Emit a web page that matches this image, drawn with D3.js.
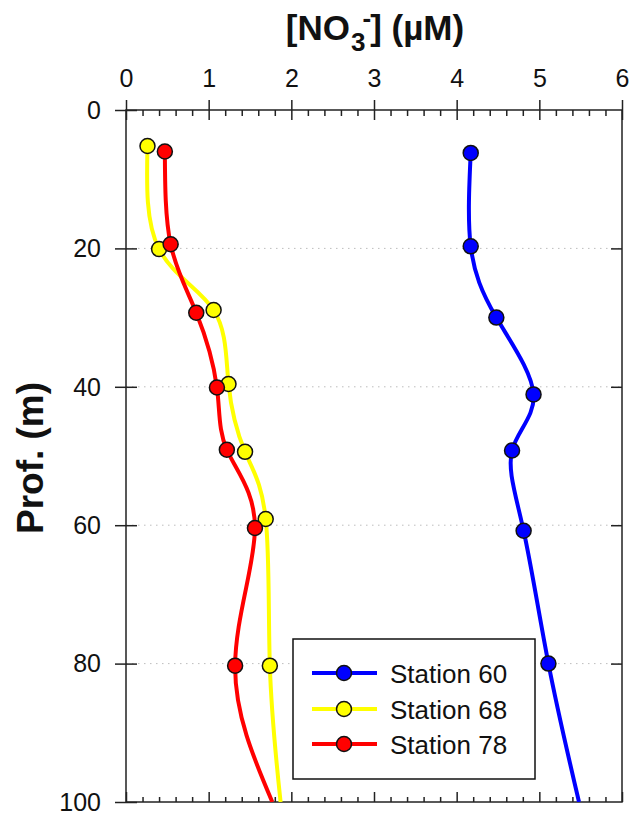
<!DOCTYPE html>
<html><head><meta charset="utf-8">
<script src="https://cdn.jsdelivr.net/npm/d3@7"></script>
<style>
html,body{margin:0;padding:0;background:#fff;}
svg{display:block;font-family:"Liberation Sans",Arial,sans-serif;}
</style></head>
<body><svg id="c" width="632" height="813"></svg>
<script>
// ---- data ----
const xTicks = [0, 1, 2, 3, 4, 5, 6];
const yTicks = [0, 20, 40, 60, 80, 100];
const seriesNames = ["Station 60", "Station 68", "Station 78"];
const seriesColors = ["#0000ff", "#ffff00", "#ff0000"];

const depth60 = [6.2, 19.7, 30.0, 41.1, 49.2, 60.8, 80.0];
const nitrate60 = [4.17, 4.17, 4.48, 4.93, 4.67, 4.81, 5.11];
const depth68 = [5.2, 20.1, 28.9, 39.6, 49.4, 59.1, 80.3];
const nitrate68 = [0.26, 0.40, 1.06, 1.24, 1.44, 1.69, 1.74];
const depth78 = [6.0, 19.4, 29.3, 40.1, 49.1, 60.4, 80.3];
const nitrate78 = [0.47, 0.54, 0.85, 1.10, 1.22, 1.56, 1.32];
// smoothed curve continuation to the bottom of the plot (line only, no marker)
const tailDepth = 100;
const tail60 = 5.48;
const tail68 = 1.87;
const tail78 = 1.77;

// ---- layout ----
const svg = d3.select("#c");
const L = 126, R = 622, T = 110, B = 802;
const x = d3.scaleLinear().domain([0, 6]).range([L, R]);
const y = d3.scaleLinear().domain([0, 100]).range([T, B]);
const axisColor = "#222";

// gridlines
svg.append("g").selectAll("line").data(yTicks.filter(d => d > 0 && d < 100)).join("line")
  .attr("x1", L).attr("x2", R).attr("y1", d => y(d)).attr("y2", d => y(d))
  .attr("stroke", "#bdbdbd").attr("stroke-width", 1).attr("stroke-dasharray", "1.5,4.5");

// frame
svg.append("rect").attr("x", L).attr("y", T).attr("width", R - L).attr("height", B - T)
  .attr("fill", "none").attr("stroke", axisColor).attr("stroke-width", 1.5);

const minorX = d3.range(0, 30).map(i => i * 0.2).filter(v => Math.abs(v - Math.round(v)) > 1e-6);

function styleAxis(g) {
  g.select(".domain").remove();
  g.selectAll(".tick line").attr("stroke", axisColor).attr("stroke-width", 1.5);
  g.selectAll(".tick text").attr("fill", "#111").attr("font-size", 25)
   .attr("font-family", "'Liberation Sans', Arial, sans-serif");
}

// top axis (major ticks cross the axis line)
const gTop = svg.append("g").attr("transform", `translate(0,${T})`)
  .call(d3.axisTop(x).tickValues(xTicks).tickFormat(d3.format("d")).tickSize(10).tickPadding(13));
styleAxis(gTop);
gTop.selectAll(".tick line").attr("y1", 10).attr("y2", -10);
svg.append("g").attr("transform", `translate(0,${T})`)
  .call(d3.axisTop(x).tickValues(minorX).tickFormat("").tickSize(-6))
  .call(g => { g.select(".domain").remove(); g.selectAll("line").attr("stroke", axisColor).attr("stroke-width", 1.5); });

// bottom axis (inward ticks, no labels)
svg.append("g").attr("transform", `translate(0,${B})`)
  .call(d3.axisBottom(x).tickValues(xTicks).tickFormat("").tickSize(-10))
  .call(g => { g.select(".domain").remove(); g.selectAll("line").attr("stroke", axisColor).attr("stroke-width", 1.5); });
svg.append("g").attr("transform", `translate(0,${B})`)
  .call(d3.axisBottom(x).tickValues(minorX).tickFormat("").tickSize(-5))
  .call(g => { g.select(".domain").remove(); g.selectAll("line").attr("stroke", axisColor).attr("stroke-width", 1.5); });

// left axis (ticks cross the axis line)
const gLeft = svg.append("g").attr("transform", `translate(${L},0)`)
  .call(d3.axisLeft(y).tickValues(yTicks).tickFormat(d3.format("d")).tickSize(11).tickPadding(14));
styleAxis(gLeft);
gLeft.selectAll(".tick line").attr("x1", 11).attr("x2", -11);
gLeft.selectAll(".tick text").attr("dy", "0.33em");

// right axis (inward ticks)
svg.append("g").attr("transform", `translate(${R},0)`)
  .call(d3.axisRight(y).tickValues(yTicks.filter(d => d > 0 && d < 100)).tickFormat("").tickSize(-11))
  .call(g => { g.select(".domain").remove(); g.selectAll("line").attr("stroke", axisColor).attr("stroke-width", 1.5); });

// titles
const title = svg.append("text").attr("x", 375).attr("y", 40).attr("text-anchor", "middle")
  .attr("font-size", 35).attr("font-weight", "bold").attr("fill", "#111");
title.append("tspan").text("[NO");
title.append("tspan").attr("font-size", 26).attr("dy", 11).attr("dx", 1).text("3");
title.append("tspan").attr("font-size", 26).attr("dy", -24).attr("dx", -3).text("-");
title.append("tspan").attr("dy", 13).attr("dx", -1).text("] (µM)");

svg.append("text").attr("transform", "translate(43,458) rotate(-90)").attr("text-anchor", "middle")
  .attr("font-size", 37).attr("font-weight", "bold").attr("fill", "#111").text("Prof. (m)");

// series
const series = [
  { depth: depth60, val: nitrate60, tail: tail60 },
  { depth: depth68, val: nitrate68, tail: tail68 },
  { depth: depth78, val: nitrate78, tail: tail78 }
];
const line = d3.line().x(d => x(d[0])).y(d => y(d[1])).curve(d3.curveNatural);
svg.append("clipPath").attr("id", "pc").append("rect")
  .attr("x", L).attr("y", T).attr("width", R - L).attr("height", B - T);

series.forEach((s, i) => {
  const pts = s.val.map((v, j) => [v, s.depth[j]]).concat([[s.tail, tailDepth]]);
  svg.append("path").attr("d", line(pts)).attr("fill", "none")
    .attr("stroke", seriesColors[i]).attr("stroke-width", 4).attr("clip-path", "url(#pc)");
});
series.forEach((s, i) => {
  svg.append("g").selectAll("circle").data(s.val.map((v, j) => [v, s.depth[j]])).join("circle")
    .attr("cx", d => x(d[0])).attr("cy", d => y(d[1])).attr("r", 7.5)
    .attr("fill", seriesColors[i]).attr("stroke", "#111").attr("stroke-width", 1.5);
});

// legend
const lg = svg.append("g");
lg.append("rect").attr("x", 293).attr("y", 639).attr("width", 242).attr("height", 140)
  .attr("fill", "#fff").attr("stroke", "#111").attr("stroke-width", 1.5);
const rowY = [673, 709, 744];
seriesNames.forEach((n, i) => {
  lg.append("line").attr("x1", 312).attr("x2", 377).attr("y1", rowY[i]).attr("y2", rowY[i])
    .attr("stroke", seriesColors[i]).attr("stroke-width", 4);
  lg.append("circle").attr("cx", 344).attr("cy", rowY[i]).attr("r", 7.5)
    .attr("fill", seriesColors[i]).attr("stroke", "#111").attr("stroke-width", 1.5);
  lg.append("text").attr("x", 390).attr("y", rowY[i] + 9.5).attr("font-size", 26)
    .attr("fill", "#111").text(n);
});
</script></body></html>
